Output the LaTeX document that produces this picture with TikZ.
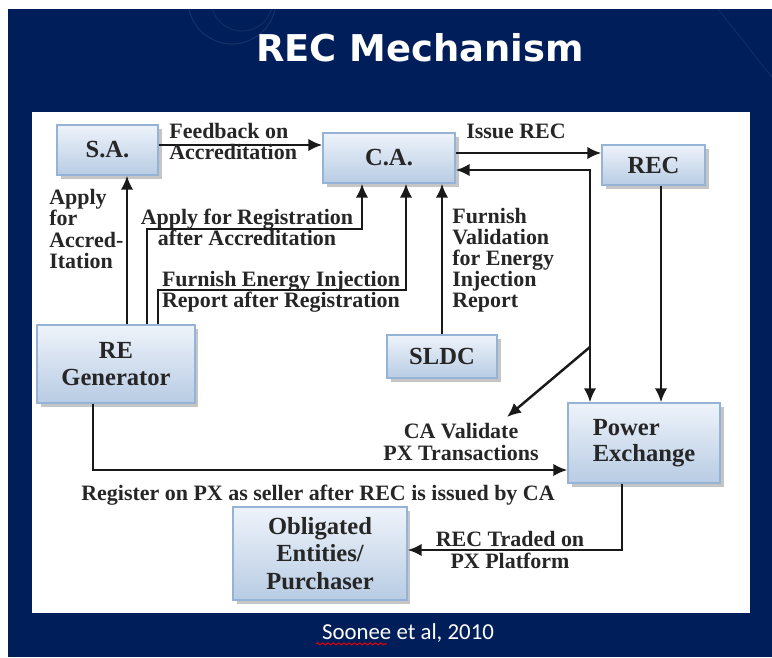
\documentclass[tikz,border=0pt]{standalone}
\usepackage{fontspec}
\setmainfont{Liberation Serif}
\newfontfamily\titlefont{DejaVu Sans}
\newfontfamily\citefont{Carlito}
\usetikzlibrary{arrows.meta,positioning,shadows,decorations.pathmorphing}

\definecolor{slidenavy}{RGB}{0,30,90}
\definecolor{boxtop}{RGB}{238,243,250}
\definecolor{boxbottom}{RGB}{184,204,228}
\definecolor{boxline}{RGB}{149,179,215}

\begin{document}
\begin{tikzpicture}[x=0.02cm, y=-0.02cm,
    party/.style={draw=boxline, line width=0.8pt, top color=boxtop, bottom color=boxbottom,
                  drop shadow={shadow xshift=2pt, shadow yshift=-2pt, fill=black!50, opacity=0.45},
                  font=\fontsize{14}{15}\selectfont\bfseries, text=black!85,
                  align=center, inner sep=2pt},
    flow/.style={line width=1.4pt, draw=black!90, -{Latex[length=2.8mm,width=2.5mm]}},
    note/.style={font=\fontsize{12.5}{12}\selectfont\bfseries, text=black!85, inner sep=0pt},
]
\useasboundingbox (0,0) rectangle (772,657);

% === Slide background ===
\fill[white] (0,0) rectangle (772,657);
\fill[slidenavy] (8,9) rectangle (772,657);
\begin{scope}
  \clip (8,9) rectangle (772,112);
  \draw[white, opacity=0.09, line width=0.6pt] (232,0) circle (44);
  \draw[white, opacity=0.07, line width=0.6pt] (242,0) circle (31);
  \draw[white, opacity=0.07, line width=0.5pt] (718,9) -- (790,100);
\end{scope}
\fill[white] (32,112) rectangle (750,613);

% === Title and source ===
\node[font=\titlefont\fontsize{21}{24}\selectfont\bfseries, text=white] (title) at (420,48) {REC Mechanism};
\node[font=\citefont\fontsize{13}{15}\selectfont, text=white] (cite) at (408,633) {Soonee et al, 2010};
\draw[red, line width=0.5pt, decorate, decoration={snake, segment length=3pt, amplitude=0.6pt}]
  ([yshift=-2.5pt]cite.base west) -- ++(71,0);

% === Parties ===
\node[party, minimum width=2.02cm, minimum height=1cm] (sa) at (107.5,150) {S.A.};
\node[party, minimum width=2.64cm, minimum height=1cm] (ca) at (389,158) {C.A.};
\node[party, minimum width=2.06cm, minimum height=0.8cm] (rec) at (653.5,165) {REC};
\node[party, minimum width=3.16cm, minimum height=1.56cm] (gen) at (116,364) {RE\\Generator};
\node[party, minimum width=2.2cm, minimum height=0.86cm] (sldc) at (442,356.5) {SLDC};
\node[party, minimum width=3.04cm, minimum height=1.6cm, align=left] (px) at (644,443) {Power\\Exchange};
\node[party, minimum width=3.48cm, minimum height=1.86cm,
      font=\fontsize{14}{15.5}\selectfont\bfseries] (obl) at (320,553.5) {Obligated\\Entities/\\Purchaser};

% === Bend points ===
\coordinate (accx)   at (127,0);
\coordinate (regbend) at (147,229);
\coordinate (regin)  at (362,0);
\coordinate (injbend) at (158,290);
\coordinate (injin)  at (406,0);
\coordinate (feedy)  at (0,145);
\coordinate (issuey) at (0,153);
\coordinate (backy)  at (590,170);
\coordinate (split)  at (590,347);
\coordinate (validtip) at (507,417);
\coordinate (recx)   at (661,0);
\coordinate (sellbend) at (93,470);
\coordinate (tradebend) at (622,550);

% === Connectors ===
\draw[flow] (gen.north -| accx) -- (sa.south -| accx);
\draw[flow] (gen.north -| regbend) -- (regbend) -| (ca.south -| regin);
\draw[flow] (gen.north -| injbend) -- (injbend) -| (ca.south -| injin);
\draw[flow] (sa.east |- feedy) -- (ca.west |- feedy);
\draw[flow] (ca.east |- issuey) -- (rec.west |- issuey);
\draw[flow] (sldc.north) -- (sldc.north |- ca.south);
\draw[flow] (split) -- (backy) -- (ca.east |- backy);
\draw[flow] (split) -- (split |- px.north);
\draw[flow] (split) -- (validtip);
\draw[flow] (rec.south -| recx) -- (px.north -| recx);
\draw[flow] (gen.south -| sellbend) -- (sellbend) -- (px.west |- sellbend);
\draw[flow] (px.south -| tradebend) -- (tradebend) -- (obl.east |- tradebend);

% === Labels ===
\node[note, anchor=west, align=left] (feedl) at (169,141.5) {Feedback on\\Accreditation};
\node[note, anchor=west, align=left] (accl) at (49,229) {Apply\\for\\Accred-\\Itation};
\node[note, align=center] (regl) at (247,227) {Apply for Registration\\after Accreditation};
\node[note, align=center] (injl) at (281,292) {Furnish Energy Injection\\Report after Registration};
\node[note] (issuel) at (516,131) {Issue REC};
\node[note, anchor=west, align=left] (furl) at (452,260) {Furnish\\Validation\\for Energy\\Injection\\Report};
\node[note, align=center] (validl) at (461,442) {CA Validate\\PX Transactions};
\node[note] (selll) at (318,495) {Register on PX as seller after REC is issued by CA};
\node[note, align=center] (tradel) at (510,550) {REC Traded on\\PX Platform};

\end{tikzpicture}
\end{document}
